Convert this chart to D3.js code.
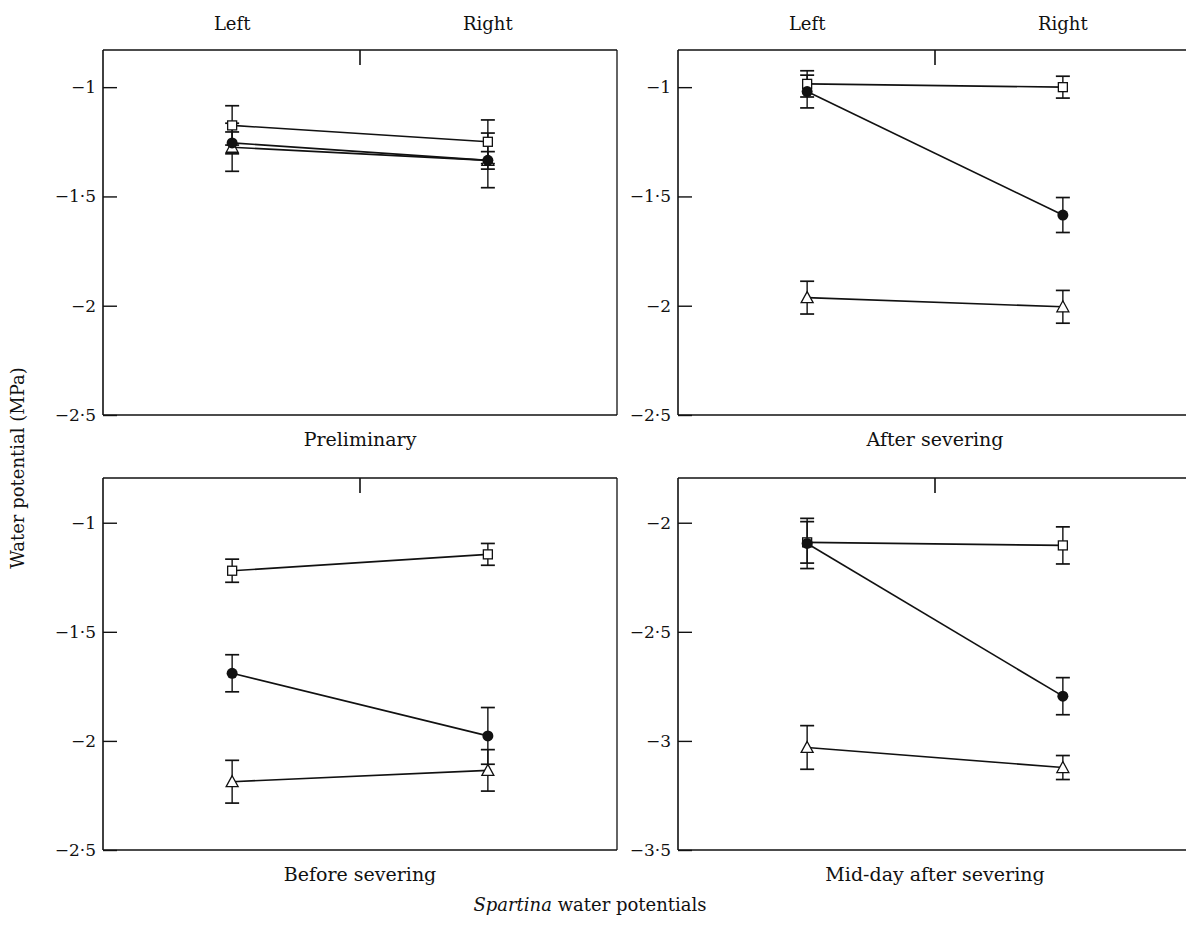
<!DOCTYPE html>
<html><head><meta charset="utf-8">
<script src="https://cdn.jsdelivr.net/npm/d3@7"></script>
<style>
html,body{margin:0;padding:0;background:#fff;}
svg text{font-family:"DejaVu Serif","Liberation Serif",serif;fill:#111;}
</style></head>
<body>
<svg id="chart" width="1186" height="940"></svg>
<script>
// ---------- data ----------
const categories = ["Left", "Right"];
const panelTitles = ["Preliminary", "After severing", "Before severing", "Mid-day after severing"];
const ticksUpper = [-1, -1.5, -2, -2.5];
const ticksMidDay = [-2, -2.5, -3, -3.5];

// Preliminary
const prelimSquare = [-1.175, -1.25];
const prelimSquareErr = [0.09, 0.10];
const prelimCircle = [-1.255, -1.335];
const prelimCircleErr = [0.05, 0.125];
const prelimTriangle = [-1.275, -1.335];
const prelimTriangleErr = [0.11, 0.04];

// After severing
const afterSquare = [-0.985, -1.0];
const afterSquareErr = [0.06, 0.05];
const afterCircle = [-1.02, -1.585];
const afterCircleErr = [0.075, 0.08];
const afterTriangle = [-1.963, -2.005];
const afterTriangleErr = [0.075, 0.075];

// Before severing
const beforeSquare = [-1.22, -1.145];
const beforeSquareErr = [0.053, 0.05];
const beforeCircle = [-1.69, -1.977];
const beforeCircleErr = [0.085, 0.13];
const beforeTriangle = [-2.187, -2.135];
const beforeTriangleErr = [0.098, 0.095];

// Mid-day after severing
const middaySquare = [-2.09, -2.104];
const middaySquareErr = [0.095, 0.085];
const middayCircle = [-2.095, -2.795];
const middayCircleErr = [0.115, 0.085];
const middayTriangle = [-3.03, -3.122];
const middayTriangleErr = [0.1, 0.055];

// ---------- layout ----------
const svg = d3.select("#chart");
const W = 514;
const panels = [
  {x0:103, y0:50, y1:415, dom:[-2.5,-0.83], ticks:ticksUpper, title:panelTitles[0], titleY:446, topLabels:true,  rightBorder:true,
   sq:prelimSquare, sqE:prelimSquareErr, ci:prelimCircle, ciE:prelimCircleErr, tr:prelimTriangle, trE:prelimTriangleErr},
  {x0:678, y0:50, y1:415, dom:[-2.5,-0.83], ticks:ticksUpper, title:panelTitles[1], titleY:446, topLabels:true,  rightBorder:false,
   sq:afterSquare, sqE:afterSquareErr, ci:afterCircle, ciE:afterCircleErr, tr:afterTriangle, trE:afterTriangleErr},
  {x0:103, y0:478, y1:850, dom:[-2.5,-0.795], ticks:ticksUpper, title:panelTitles[2], titleY:881, topLabels:false, rightBorder:true,
   sq:beforeSquare, sqE:beforeSquareErr, ci:beforeCircle, ciE:beforeCircleErr, tr:beforeTriangle, trE:beforeTriangleErr},
  {x0:678, y0:478, y1:850, dom:[-3.5,-1.795], ticks:ticksMidDay, title:panelTitles[3], titleY:881, topLabels:false, rightBorder:false,
   sq:middaySquare, sqE:middaySquareErr, ci:middayCircle, ciE:middayCircleErr, tr:middayTriangle, trE:middayTriangleErr}
];

const fmt = v => {
  const s = Math.abs(v).toString().replace(".", "\u00B7");
  return (v < 0 ? "\u2212" : "") + s;
};

panels.forEach(p => {
  const g = svg.append("g");
  const x = d3.scalePoint().domain(categories).range([p.x0, p.x0 + W]).padding(0.505);
  const y = d3.scaleLinear().domain(p.dom).range([p.y1, p.y0]);
  const xEnd = p.rightBorder ? p.x0 + W : 1186;

  // frame
  g.append("line").attr("x1", p.x0).attr("x2", xEnd).attr("y1", p.y0).attr("y2", p.y0)
    .attr("stroke", "#111").attr("stroke-width", 1.6);
  g.append("line").attr("x1", p.x0).attr("x2", xEnd).attr("y1", p.y1).attr("y2", p.y1)
    .attr("stroke", "#111").attr("stroke-width", 1.6);
  if (p.rightBorder) {
    g.append("line").attr("x1", p.x0 + W).attr("x2", p.x0 + W).attr("y1", p.y0).attr("y2", p.y1)
      .attr("stroke", "#111").attr("stroke-width", 1.3);
  }
  // mid tick on top border
  g.append("line").attr("x1", p.x0 + W / 2).attr("x2", p.x0 + W / 2).attr("y1", p.y0).attr("y2", p.y0 + 15)
    .attr("stroke", "#111").attr("stroke-width", 1.6);

  // y axis with inward ticks
  const yAxis = d3.axisRight(y).tickValues(p.ticks).tickSize(14).tickFormat("");
  const ya = g.append("g").attr("transform", `translate(${p.x0},0)`).call(yAxis);
  ya.select(".domain").attr("stroke", "#111").attr("stroke-width", 1.6)
    .attr("d", `M0,${p.y0}V${p.y1}`);
  ya.selectAll(".tick line").attr("stroke", "#111").attr("stroke-width", 1.4);
  // tick labels to the left
  g.selectAll(".tlab").data(p.ticks).join("text")
    .attr("x", p.x0 - 7).attr("y", d => y(d) + 6)
    .attr("text-anchor", "end").style("font-size", "17px").text(fmt);

  // top labels
  if (p.topLabels) {
    g.selectAll(".cat").data(categories).join("text")
      .attr("x", d => x(d)).attr("y", 30).attr("text-anchor", "middle")
      .style("font-size", "18px").text(d => d);
  }
  // title
  g.append("text").attr("x", p.x0 + W / 2).attr("y", p.titleY).attr("text-anchor", "middle")
    .style("font-size", "19px").text(p.title);

  const series = [
    {v: p.tr, e: p.trE, shape: "tri"},
    {v: p.sq, e: p.sqE, shape: "sq"},
    {v: p.ci, e: p.ciE, shape: "ci"}
  ];
  const line = d3.line().x((d, i) => x(categories[i])).y(d => y(d));
  // lines
  series.forEach(s => {
    g.append("path").attr("d", line(s.v)).attr("fill", "none")
      .attr("stroke", "#111").attr("stroke-width", 1.6);
  });
  // error bars
  series.forEach(s => {
    s.v.forEach((v, i) => {
      const cx = x(categories[i]);
      const top = y(v + s.e[i]), bot = y(v - s.e[i]);
      g.append("line").attr("x1", cx).attr("x2", cx).attr("y1", top).attr("y2", bot)
        .attr("stroke", "#111").attr("stroke-width", 1.4);
      [top, bot].forEach(yy => g.append("line").attr("x1", cx - 7).attr("x2", cx + 7)
        .attr("y1", yy).attr("y2", yy).attr("stroke", "#111").attr("stroke-width", 1.7));
    });
  });
  // markers
  series.forEach(s => {
    s.v.forEach((v, i) => {
      const cx = x(categories[i]), cy = y(v);
      if (s.shape === "ci") {
        g.append("circle").attr("cx", cx).attr("cy", cy).attr("r", 5.5).attr("fill", "#111");
      } else if (s.shape === "sq") {
        g.append("rect").attr("x", cx - 4.5).attr("y", cy - 4.5).attr("width", 9).attr("height", 9)
          .attr("fill", "#fff").attr("stroke", "#111").attr("stroke-width", 1.3);
      } else {
        g.append("path").attr("d", `M${cx},${cy - 6}L${cx + 6},${cy + 5}L${cx - 6},${cy + 5}Z`)
          .attr("fill", "#fff").attr("stroke", "#111").attr("stroke-width", 1.3);
      }
    });
  });
});

// y-axis title
svg.append("text").attr("transform", "translate(24,468) rotate(-90)")
  .attr("text-anchor", "middle").style("font-size", "18px").text("Water potential (MPa)");

// bottom title
const bt = svg.append("text").attr("x", 590).attr("y", 911).attr("text-anchor", "middle").style("font-size", "18px");
bt.append("tspan").style("font-style", "italic").text("Spartina");
bt.append("tspan").text(" water potentials");
</script>
</body></html>
